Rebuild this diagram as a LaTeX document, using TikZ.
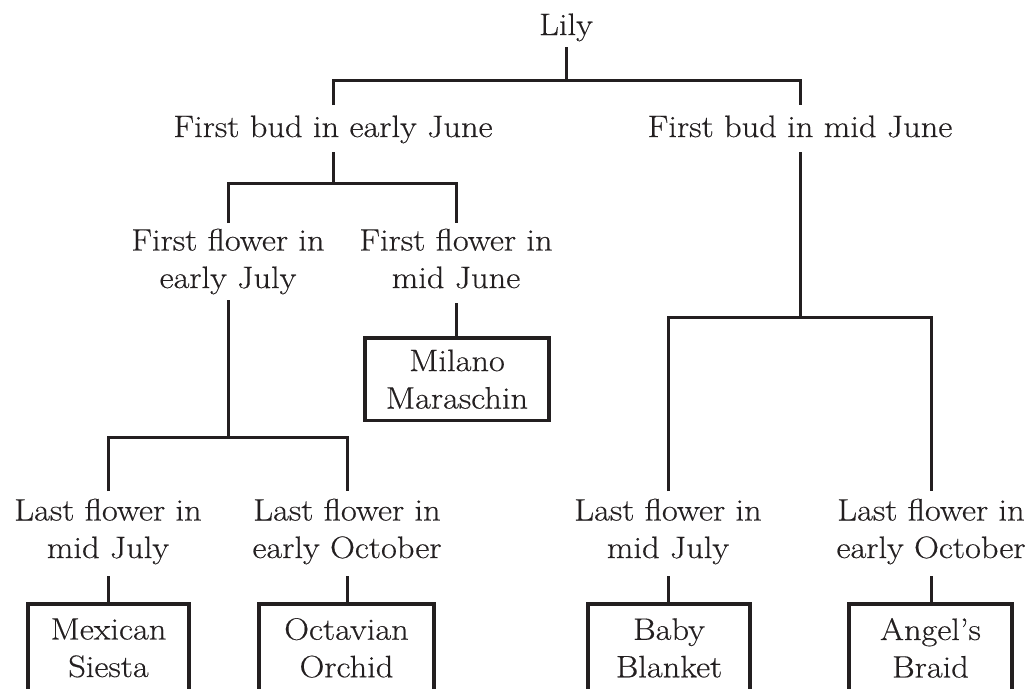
\documentclass[tikz,border=0pt]{standalone}
\usepackage{fontspec}
\setmainfont{Latin Modern Roman}[FakeStretch=1.11,FakeBold=0.4]
\definecolor{ink}{HTML}{231F20}
\begin{document}
\begin{tikzpicture}[x=1pt,y=-1pt,
  lbl/.style={font=\fontsize{31}{37.5}\selectfont, text=ink, align=center, inner sep=0pt, anchor=base},
  conn/.style={draw=ink, line width=3pt},
  leaf/.style={draw=ink, line width=3.8pt, font=\fontsize{31}{37.5}\selectfont, text=ink, align=center, inner sep=0pt, anchor=north},
]
\useasboundingbox (0,0) rectangle (1032,688);
% text labels (base anchor = baseline of the last line)
\node[lbl] (lily) at (566,35) {Lily};
\node[lbl] (budE) at (333,137) {First bud in early June};
\node[lbl] (budM) at (800,137) {First bud in mid June};
\node[lbl] (ffJ) at (228,288) {First flower in\\early July};
\node[lbl] (ffM) at (456,288) {First flower in\\mid June};
\node[lbl] (lfA) at (108,558) {Last flower in\\mid July};
\node[lbl] (lfB) at (347,558) {Last flower in\\early October};
\node[lbl] (lfC) at (668,558) {Last flower in\\mid July};
\node[lbl] (lfD) at (931,558) {Last flower in\\early October};
% boxes
\node[leaf, minimum width=184pt, minimum height=82.5pt] (milano) at (457,336) {Milano\\Maraschin};
\node[leaf, minimum width=161pt, minimum height=88pt] (mex) at (108.5,602) {Mexican\\Siesta};
\node[leaf, minimum width=175pt, minimum height=88pt] (oct) at (346.5,602) {Octavian\\Orchid};
\node[leaf, minimum width=162pt, minimum height=88pt] (baby) at (669,602) {Baby\\Blanket};
\node[leaf, minimum width=163pt, minimum height=88pt] (angel) at (930.5,602) {Angel’s\\Braid};
% connectors
\draw[conn] (lily.base |- 0,47) -- (lily.base |- 0,80);
\draw[conn] (budE.base |- 0,105) |- (budM.base |- 0,80) -- (budM.base |- 0,105);
\draw[conn] (budE.base |- 0,152) -- (budE.base |- 0,183);
\draw[conn] (ffJ.base |- 0,223) |- (ffM.base |- 0,183) -- (ffM.base |- 0,223);
\draw[conn] (ffJ.base |- 0,300) -- (ffJ.base |- 0,437);
\draw[conn] (lfA.base |- 0,491) |- (lfB.base |- 0,437) -- (lfB.base |- 0,491);
\draw[conn] (ffM.base |- 0,303) -- (ffM.base |- milano.north);
\draw[conn] (budM.base |- 0,152) -- (budM.base |- 0,317);
\draw[conn] (lfC.base |- 0,491) |- (lfD.base |- 0,317) -- (lfD.base |- 0,491);
\draw[conn] (lfA.base |- 0,576) -- (lfA.base |- mex.north);
\draw[conn] (lfB.base |- 0,576) -- (lfB.base |- oct.north);
\draw[conn] (lfC.base |- 0,576) -- (lfC.base |- baby.north);
\draw[conn] (lfD.base |- 0,576) -- (lfD.base |- angel.north);
\end{tikzpicture}
\end{document}
